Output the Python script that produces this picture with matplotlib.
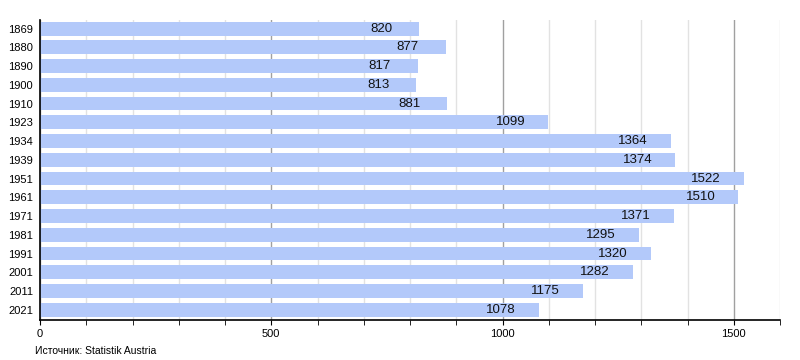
import matplotlib.pyplot as plt
from matplotlib.ticker import MultipleLocator

years = ["1869", "1880", "1890", "1900", "1910", "1923", "1934", "1939",
         "1951", "1961", "1971", "1981", "1991", "2001", "2011", "2021"]
population = [820, 877, 817, 813, 881, 1099, 1364, 1374,
              1522, 1510, 1371, 1295, 1320, 1282, 1175, 1078]

plt.rcParams['font.family'] = ['Liberation Sans', 'DejaVu Sans']

fig = plt.figure(figsize=(8, 3.6), dpi=100)
ax = fig.add_axes([0.05, 0.111, 0.925, 0.833])

pos = list(range(len(years)))
ax.barh(pos, population, height=0.74, color='#b3c9fa', zorder=2)

# value labels sit inside the bar, a bit before its end
for p, v in zip(pos, population):
    ax.text(v - 82, p, str(v), ha='center', va='center', fontsize=9.5, color='#111111', zorder=3)

ax.set_xlim(0, 1600)
ax.set_ylim(15.55, -0.45)
ax.set_yticks(pos)
ax.set_yticklabels(years, fontsize=8)
ax.tick_params(axis='y', length=0, pad=5)

ax.xaxis.set_major_locator(MultipleLocator(500))
ax.xaxis.set_minor_locator(MultipleLocator(100))
ax.tick_params(axis='x', which='both', direction='out', length=3.5, labelsize=8, pad=3, color='black')
ax.grid(axis='x', which='minor', color='#e2e2e2', linewidth=1, zorder=0)
ax.grid(axis='x', which='major', color='#a0a0a0', linewidth=1, zorder=0)

for s in ['top', 'right']:
    ax.spines[s].set_visible(False)
ax.spines['left'].set_linewidth(1.2)
ax.spines['bottom'].set_linewidth(1.2)

fig.text(0.044, 0.012, "Источник: Statistik Austria", fontsize=7.5, ha='left', va='bottom')

fig.savefig('out.png', dpi=100)
